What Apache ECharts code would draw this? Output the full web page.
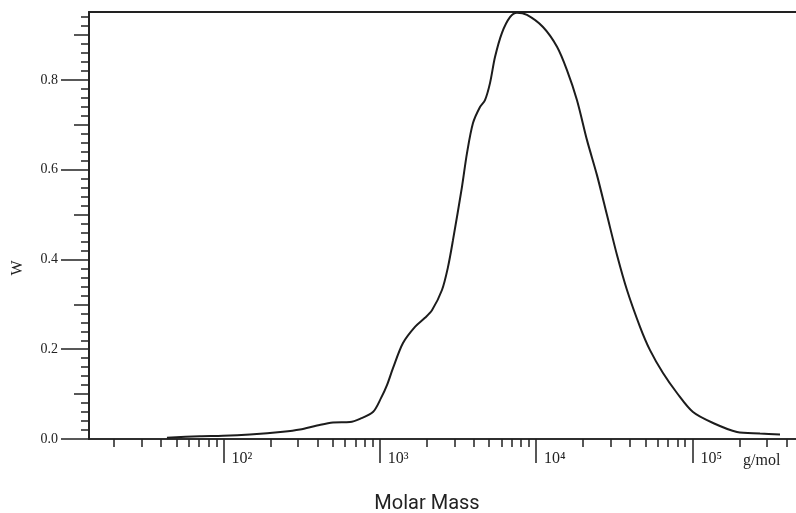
<!DOCTYPE html>
<html>
<head>
<meta charset="utf-8">
<script src="https://cdn.jsdelivr.net/npm/echarts@6/dist/echarts.min.js"></script>
<style>
html, body { margin: 0; padding: 0; background: #fff; }
#main { width: 796px; height: 513px; }
</style>
</head>
<body>
<div id="main"></div>
<script>
// molar mass distribution
var molarMass = [43.5, 70.7, 99.3, 147.7, 240.3, 308.6, 396.6, 501.8, 644.9, 747,
    904.3, 1018, 1112, 1215, 1408, 1680, 1946, 2158, 2500, 2731,
    2940, 3357, 3614, 3948, 4377, 4711, 5072, 5460, 6050, 6808,
    7547, 8745, 11070, 13610, 15760, 18270, 21170, 24520, 28420, 32930,
    38150, 46220, 53550, 64850, 79690, 100900, 135500, 192900, 270700, 363500];
var wFraction = [0.003, 0.006, 0.007, 0.010, 0.016, 0.021, 0.030, 0.037, 0.038, 0.045,
    0.060, 0.091, 0.120, 0.158, 0.214, 0.250, 0.270, 0.287, 0.332, 0.383,
    0.443, 0.562, 0.637, 0.704, 0.740, 0.755, 0.793, 0.851, 0.905, 0.940,
    0.950, 0.945, 0.918, 0.874, 0.822, 0.755, 0.666, 0.588, 0.499, 0.410,
    0.332, 0.250, 0.198, 0.147, 0.1025, 0.060, 0.0357, 0.0156, 0.0123, 0.010];

var xMajorTicks = [100, 1000, 10000, 100000];
var xMinorTicks = [];
[10, 100, 1000, 10000, 100000].forEach(function (d) {
    for (var k = 2; k <= 9; k++) {
        if (k * d <= 460000) xMinorTicks.push(k * d);
    }
});
var yLabelTicks = [0, 0.2, 0.4, 0.6, 0.8];
var yMidTicks = [0.1, 0.3, 0.5, 0.7, 0.9];
var yMinorTicks = [];
for (var i = 1; i <= 47; i++) {
    if (i % 5 !== 0) yMinorTicks.push(+(i * 0.02).toFixed(2));
}

var sup = { 2: '\u00b2', 3: '\u00b3', 4: '\u2074', 5: '\u2075' };
var serif = '"Liberation Serif", "DejaVu Serif", serif';
var ink = '#222';

var xMin = 13.8, xMax = 460000, yMax = 0.9515;

function xBase(extra) {
    var a = {
        type: 'log',
        logBase: 10,
        min: xMin,
        max: xMax,
        splitLine: { show: false },
        axisLine: { show: true, onZero: false, lineStyle: { color: ink, width: 1.5 } },
        axisTick: { show: false },
        axisLabel: { show: false }
    };
    return Object.assign(a, extra);
}
function yBase(extra) {
    var a = {
        type: 'value',
        position: 'left',
        min: 0,
        max: yMax,
        splitLine: { show: false },
        axisLine: { show: true, onZero: false, lineStyle: { color: ink, width: 1.5 } },
        axisTick: { show: false },
        axisLabel: { show: false }
    };
    return Object.assign(a, extra);
}

var myChart = echarts.init(document.getElementById('main'));
var option = {
    backgroundColor: '#fff',
    animation: false,
    grid: { left: 89, right: 0, top: 12, bottom: 74, containLabel: false, outerBoundsMode: 'none' },
    xAxis: [
        xBase({
            position: 'bottom',
            axisTick: { show: true, customValues: xMinorTicks, length: 8, lineStyle: { color: ink, width: 1.5 } }
        }),
        xBase({
            position: 'bottom',
            axisTick: { show: true, customValues: xMajorTicks, length: 24, lineStyle: { color: ink, width: 1.5 } },
            axisLabel: {
                show: true,
                customValues: xMajorTicks,
                formatter: function (v) { return '10' + sup[Math.round(Math.log10(v))]; },
                align: 'left',
                margin: 12,
                padding: [0, 0, 0, 8],
                fontFamily: serif,
                fontSize: 16,
                color: ink
            },
            name: 'g/mol',
            nameLocation: 'end',
            nameGap: -53,
            nameTextStyle: { fontFamily: serif, fontSize: 16, color: ink, verticalAlign: 'top', padding: [14, 0, 0, 0] }
        }),
        xBase({ position: 'top', axisLine: { show: true, onZero: false, lineStyle: { color: ink, width: 2 } } })
    ],
    yAxis: [
        yBase({
            axisTick: { show: true, customValues: yLabelTicks, length: 28, lineStyle: { color: ink, width: 1.5 } },
            axisLabel: {
                show: true,
                customValues: yLabelTicks,
                formatter: function (v) { return v.toFixed(1); },
                margin: 31,
                fontFamily: serif,
                fontSize: 14,
                color: ink
            }
        }),
        yBase({
            axisTick: { show: true, customValues: yMidTicks, length: 15, lineStyle: { color: ink, width: 1.5 } }
        }),
        yBase({
            axisTick: { show: true, customValues: yMinorTicks, length: 8, lineStyle: { color: ink, width: 1.5 } }
        })
    ],
    graphic: [
        {
            type: 'text',
            x: 18,
            y: 268,
            rotation: Math.PI / 2,
            style: { text: 'W', font: '16px ' + serif, fill: ink, textAlign: 'center', textVerticalAlign: 'middle' }
        },
        {
            type: 'text',
            x: 427,
            y: 504,
            style: { text: 'Molar Mass', font: '20px Roboto, "Noto Sans", sans-serif', fill: ink, textAlign: 'center', textVerticalAlign: 'middle' }
        }
    ],
    series: [
        {
            name: 'W',
            type: 'line',
            xAxisIndex: 0,
            yAxisIndex: 0,
            showSymbol: false,
            smooth: 0.3,
            lineStyle: { color: '#1c1c1c', width: 2 },
            data: molarMass.map(function (m, i) { return [m, wFraction[i]]; })
        }
    ]
};

myChart.setOption(option);
</script>
</body>
</html>
